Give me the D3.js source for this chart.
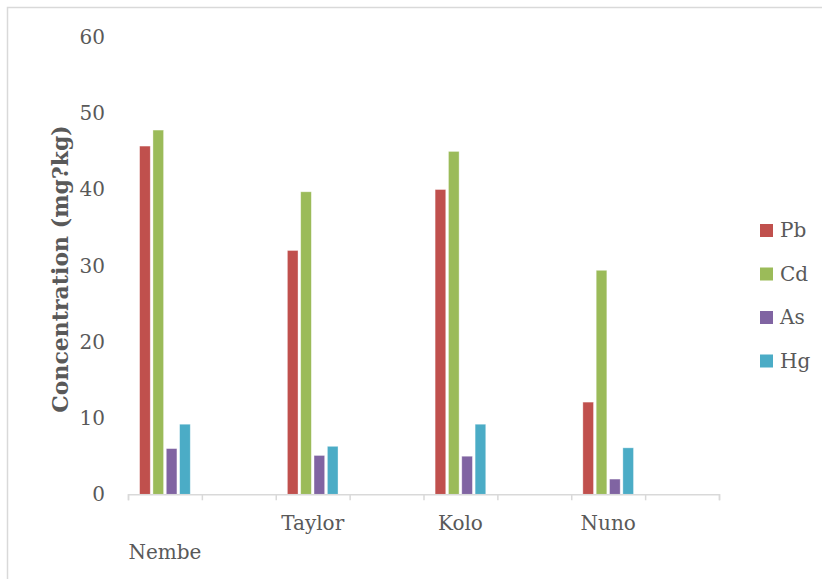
<!DOCTYPE html>
<html>
<head>
<meta charset="utf-8">
<script src="https://cdn.jsdelivr.net/npm/d3@7"></script>
<style>
  body { margin: 0; background: #fff; }
  text { font-family: "DejaVu Serif", serif; fill: #595959; }
</style>
</head>
<body>
<div id="chart"></div>
<script>
// slots on the x axis (Excel left empty categories between the sites)
var categories = ["Nembe", "", "Taylor", "", "Kolo", "", "Nuno", ""];
var sites = ["Nembe", "Taylor", "Kolo", "Nuno"];
var seriesNames = ["Pb", "Cd", "As", "Hg"];
var pbValues = [45.7, 32.0, 40.0, 12.1];
var cdValues = [47.8, 39.7, 45.0, 29.4];
var asValues = [6.0, 5.1, 5.0, 2.0];
var hgValues = [9.2, 6.3, 9.2, 6.1];
var yTicks = [0, 10, 20, 30, 40, 50, 60];
var colors = ["#c0504d", "#9bbb59", "#8064a2", "#4bacc6"];

var svgWidth = 822, svgHeight = 579;
var svg = d3.select("#chart").append("svg")
    .attr("width", svgWidth)
    .attr("height", svgHeight);

// chart border (runs off the right and bottom edges)
svg.append("rect")
    .attr("x", 7.5).attr("y", 7.5)
    .attr("width", 840).attr("height", 600)
    .attr("fill", "none")
    .attr("stroke", "#d9d9d9")
    .attr("stroke-width", 1.5);

var plot = { left: 128, right: 719, top: 37.1, bottom: 494.3 };

var x0 = d3.scaleBand()
    .domain(d3.range(categories.length))
    .range([plot.left, plot.right])
    .padding(0);

var x1 = d3.scaleBand()
    .domain(seriesNames)
    .range([x0.bandwidth() * 0.139, x0.bandwidth() * 0.861])
    .paddingInner(0.2)
    .paddingOuter(0.1);

var y = d3.scaleLinear()
    .domain([0, 60])
    .range([plot.bottom, plot.top]);

// y tick labels, no axis line
var yAxis = svg.append("g")
    .attr("transform", "translate(" + plot.left + ",0)")
    .call(d3.axisLeft(y).tickValues(yTicks).tickSize(0).tickPadding(23));
yAxis.select(".domain").remove();
yAxis.selectAll("text")
    .style("font-size", "20px")
    .style("font-family", "DejaVu Serif")
    .attr("fill", "#595959");

// bars
var seriesValues = [pbValues, cdValues, asValues, hgValues];
var barData = [];
seriesNames.forEach(function(s, i) {
    sites.forEach(function(site, j) {
        barData.push({ series: s, site: site, value: seriesValues[i][j], color: colors[i] });
    });
});

svg.append("g").selectAll("rect")
    .data(barData)
    .enter()
    .append("rect")
    .attr("x", d => x0(categories.indexOf(d.site)) + x1(d.series))
    .attr("y", d => y(d.value))
    .attr("width", x1.bandwidth())
    .attr("height", d => y(0) - y(d.value))
    .attr("fill", d => d.color)
    .attr("stroke", "#ffffff")
    .attr("stroke-opacity", 0.5)
    .attr("stroke-width", 0.75);

// x axis line with tick marks at category boundaries
var xEdge = d3.scaleLinear().domain([0, categories.length]).range([plot.left, plot.right]);
var xAxisLine = svg.append("g")
    .attr("transform", "translate(0," + plot.bottom + ")")
    .call(d3.axisBottom(xEdge).ticks(categories.length).tickSize(6).tickSizeOuter(6).tickFormat(""));
xAxisLine.select(".domain").attr("stroke", "#d9d9d9").attr("stroke-width", 1.5);
xAxisLine.selectAll(".tick line").attr("stroke", "#d9d9d9").attr("stroke-width", 1.5);

// category labels
var xLabels = svg.append("g")
    .attr("transform", "translate(0," + plot.bottom + ")")
    .call(d3.axisBottom(x0).tickSize(0).tickPadding(22).tickFormat(i => categories[i]));
xLabels.select(".domain").remove();
xLabels.selectAll("text")
    .style("font-size", "20px")
    .style("font-family", "DejaVu Serif")
    .attr("fill", "#595959");
// first label sits on a second row
xLabels.selectAll(".tick")
    .filter(i => i === 0)
    .select("text")
    .attr("y", 51);

// y axis title
svg.append("text")
    .attr("transform", "translate(68,269) rotate(-90)")
    .attr("text-anchor", "middle")
    .style("font-size", "22px")
    .style("font-weight", "bold")
    .text("Concentration (mg?kg)");

// legend
var legend = svg.append("g").selectAll("g")
    .data(seriesNames)
    .enter()
    .append("g")
    .attr("transform", (d, i) => "translate(760," + (224 + i * 43.5) + ")");

legend.append("rect")
    .attr("width", 13)
    .attr("height", 13)
    .attr("fill", (d, i) => colors[i]);

legend.append("text")
    .attr("x", 20)
    .attr("y", 13)
    .style("font-size", "20px")
    .text(d => d);
</script>
</body>
</html>
